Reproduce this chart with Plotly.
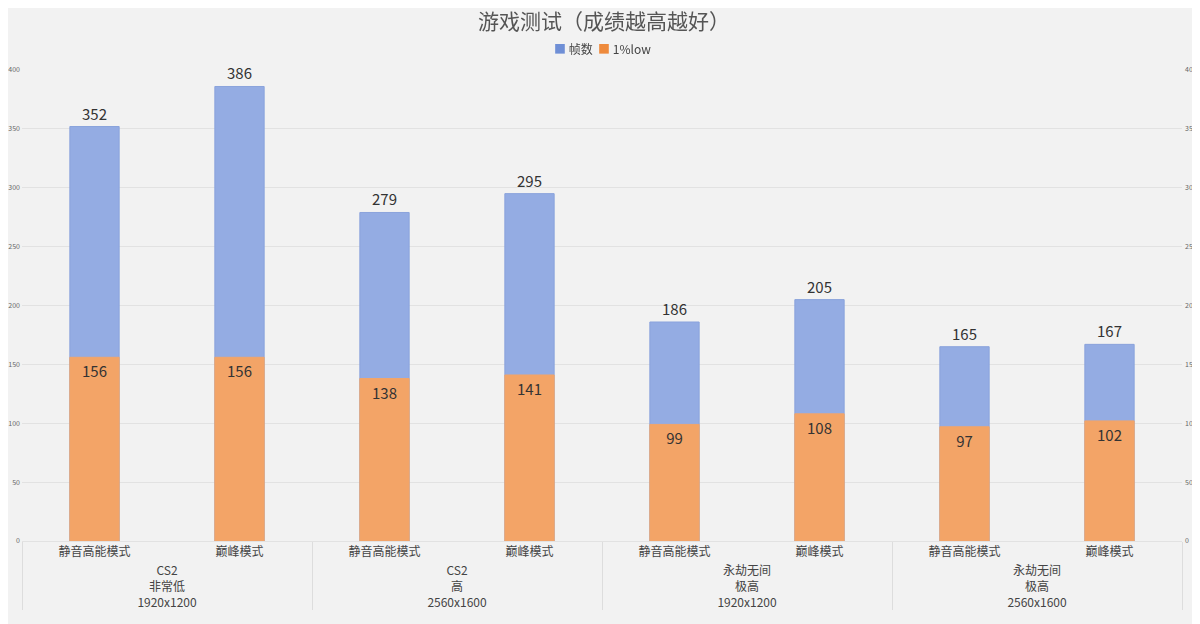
import plotly.graph_objects as go

# 数据
juegos = ["CS2<br>非常低<br>1920x1200", "CS2<br>高<br>2560x1600",
          "永劫无间<br>极高<br>1920x1200", "永劫无间<br>极高<br>2560x1600"]
modos = ["静音高能模式", "巅峰模式"]
fps = [352, 386, 279, 295, 186, 205, 165, 167]
low1 = [156, 156, 138, 141, 99, 108, 97, 102]

xOuter = [j for j in juegos for m in modos]
xInner = [m for j in juegos for m in modos]
x = [xOuter, xInner]

fuente = "Noto Sans CJK SC, sans-serif"
azul = "#94ace3"
naranja = "#f3a467"

fig = go.Figure()
fig.add_trace(go.Bar(x=x, y=fps, name="帧数", width=0.34,
                     marker=dict(color=azul, line=dict(color="#8aa3dc", width=1)),
                     text=fps, textposition="outside",
                     textfont=dict(size=15, color="#333333"), cliponaxis=False))
fig.add_trace(go.Bar(x=x, y=low1, name="1%low", width=0.34,
                     marker=dict(color=naranja, line=dict(color="#f0a56c", width=1)),
                     text=low1, textposition="inside", insidetextanchor="end",
                     textfont=dict(size=15, color="#333333")))
# eje derecho espejo
fig.add_trace(go.Scatter(x=x, y=fps, yaxis="y2", mode="markers", opacity=0,
                         showlegend=False, hoverinfo="skip"))

# leyenda compacta como texto
leyenda = ("<span style='color:#6f8fd6'>■</span> 帧数  "
           "<span style='color:#ee8a3c'>■</span> 1%low")

# la pagina deja 8px de margen arriba e izquierda
fig.update_layout(
    width=1192, height=616,
    paper_bgcolor="#f2f2f2", plot_bgcolor="#f2f2f2",
    font=dict(family=fuente, color="#444444"),
    barmode="overlay", showlegend=False,
    margin=dict(l=14, r=18, t=62, b=83, autoexpand=False),
    title=dict(text="游戏测试（成绩越高越好）", x=0.5, xanchor="center",
               yref="container", y=1, yanchor="top", pad=dict(t=6),
               font=dict(size=21, color="#555555")),
    annotations=[dict(text=leyenda, xref="paper", yref="paper", x=0.5, y=1.045,
                      xanchor="center", yanchor="middle", showarrow=False,
                      font=dict(size=12, color="#444444"))],
    xaxis=dict(type="multicategory", showgrid=False, tickfont=dict(size=12, color="#444444"),
               showdividers=True, dividercolor="#dddddd", dividerwidth=1,
               showline=True, linecolor="#e2e2e2", automargin=False),
    yaxis=dict(range=[0, 400], dtick=50, gridcolor="#e2e2e2", zeroline=False,
               tickfont=dict(size=7, color="#666666"), ticks="", ticklabelstandoff=1,
               automargin=False),
    yaxis2=dict(overlaying="y", side="right", matches="y", showgrid=False, zeroline=False,
                dtick=50, tickfont=dict(size=7, color="#666666"), ticks="",
                ticklabelstandoff=2, automargin=False),
)

fig.write_html("out.html")
